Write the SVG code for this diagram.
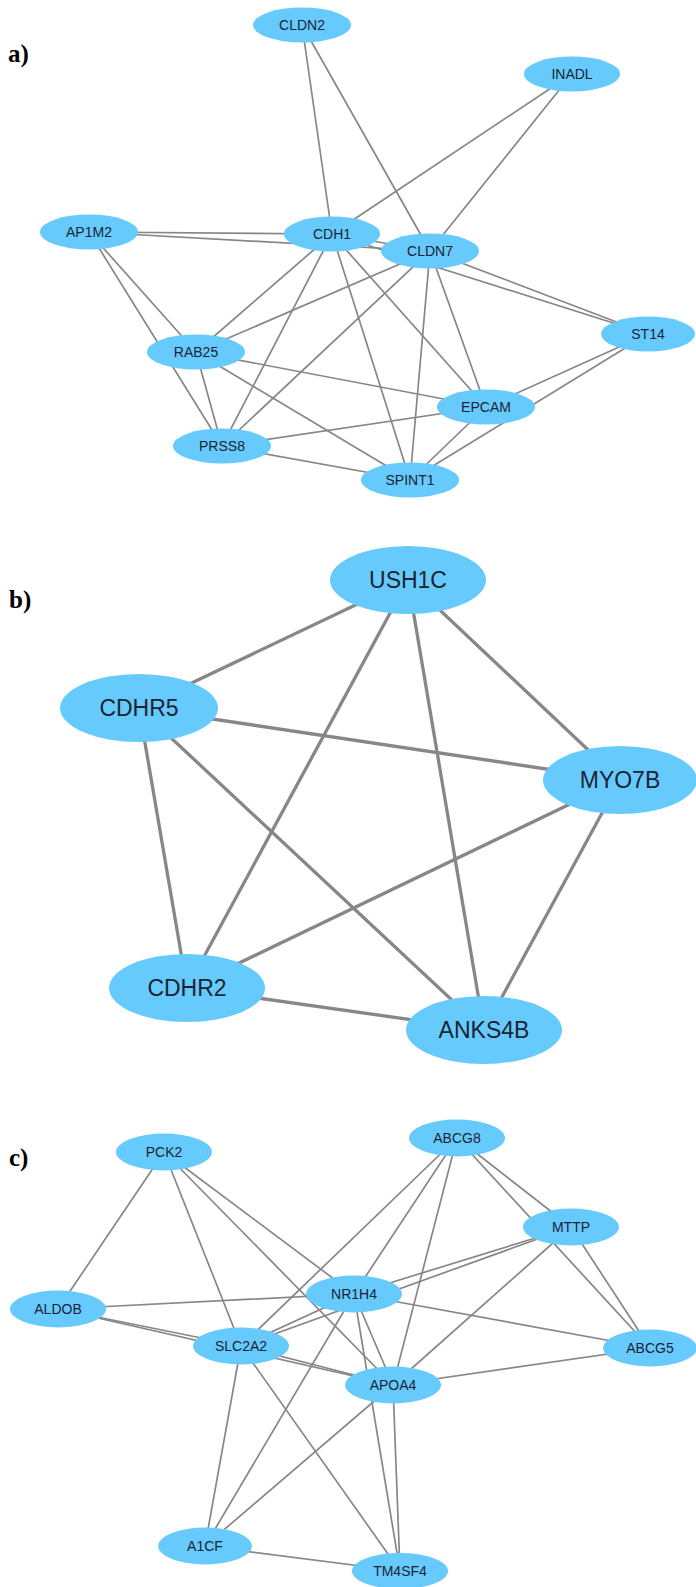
<svg xmlns="http://www.w3.org/2000/svg" width="696" height="1587" viewBox="0 0 696 1587">
<style>
.n{fill:#66cbfc;stroke:none}
.t{font-family:"Liberation Sans",Arial,sans-serif;fill:#1b2233;text-anchor:middle;dominant-baseline:central}
.ts{font-size:14px}
.tb{font-size:23px}
.e{stroke:#878787;fill:none;stroke-linecap:round}
.ea{stroke-width:1.7}
.eb{stroke-width:3.3}
.p{font-family:"Liberation Serif","Times New Roman",serif;font-weight:bold;font-size:25px;fill:#000}
</style>
<rect width="696" height="1587" fill="#fff"/>
<text class="p" x="8" y="62">a)</text>
<text class="p" x="9" y="608">b)</text>
<text class="p" x="9" y="1166">c)</text>
<g id="edges-a" class="e ea">
<line x1="302" y1="25" x2="332" y2="234"/>
<line x1="302" y1="25" x2="430" y2="251"/>
<line x1="572" y1="74" x2="332" y2="234"/>
<line x1="572" y1="74" x2="430" y2="251"/>
<line x1="89" y1="232" x2="332" y2="234"/>
<line x1="89" y1="232" x2="430" y2="251"/>
<line x1="89" y1="232" x2="196" y2="352"/>
<line x1="89" y1="232" x2="222" y2="446"/>
<line x1="332" y1="234" x2="430" y2="251"/>
<line x1="332" y1="234" x2="648" y2="334"/>
<line x1="332" y1="234" x2="196" y2="352"/>
<line x1="332" y1="234" x2="222" y2="446"/>
<line x1="332" y1="234" x2="410" y2="480"/>
<line x1="332" y1="234" x2="486" y2="407"/>
<line x1="430" y1="251" x2="648" y2="334"/>
<line x1="430" y1="251" x2="196" y2="352"/>
<line x1="430" y1="251" x2="222" y2="446"/>
<line x1="430" y1="251" x2="410" y2="480"/>
<line x1="430" y1="251" x2="486" y2="407"/>
<line x1="196" y1="352" x2="486" y2="407"/>
<line x1="196" y1="352" x2="222" y2="446"/>
<line x1="196" y1="352" x2="410" y2="480"/>
<line x1="486" y1="407" x2="222" y2="446"/>
<line x1="486" y1="407" x2="648" y2="334"/>
<line x1="648" y1="334" x2="410" y2="480"/>
<line x1="486" y1="407" x2="410" y2="480"/>
<line x1="222" y1="446" x2="410" y2="480"/>
</g>
<g id="edges-b" class="e eb">
<line x1="408" y1="580" x2="139" y2="708"/>
<line x1="408" y1="580" x2="187" y2="988"/>
<line x1="408" y1="580" x2="484" y2="1030"/>
<line x1="408" y1="580" x2="620" y2="780"/>
<line x1="139" y1="708" x2="620" y2="780"/>
<line x1="139" y1="708" x2="187" y2="988"/>
<line x1="139" y1="708" x2="484" y2="1030"/>
<line x1="620" y1="780" x2="187" y2="988"/>
<line x1="620" y1="780" x2="484" y2="1030"/>
<line x1="187" y1="988" x2="484" y2="1030"/>
</g>
<g id="edges-c" class="e ea">
<line x1="164" y1="1152" x2="58" y2="1309"/>
<line x1="164" y1="1152" x2="241" y2="1346"/>
<line x1="164" y1="1152" x2="354" y2="1294"/>
<line x1="164" y1="1152" x2="393" y2="1385"/>
<line x1="457" y1="1138" x2="241" y2="1346"/>
<line x1="457" y1="1138" x2="354" y2="1294"/>
<line x1="457" y1="1138" x2="393" y2="1385"/>
<line x1="457" y1="1138" x2="571" y2="1227"/>
<line x1="457" y1="1138" x2="650" y2="1348"/>
<line x1="571" y1="1227" x2="650" y2="1348"/>
<line x1="571" y1="1227" x2="354" y2="1294"/>
<line x1="571" y1="1227" x2="241" y2="1346"/>
<line x1="571" y1="1227" x2="393" y2="1385"/>
<line x1="354" y1="1294" x2="58" y2="1309"/>
<line x1="354" y1="1294" x2="650" y2="1348"/>
<line x1="354" y1="1294" x2="241" y2="1346"/>
<line x1="354" y1="1294" x2="393" y2="1385"/>
<line x1="354" y1="1294" x2="400" y2="1571"/>
<line x1="354" y1="1294" x2="205" y2="1546"/>
<line x1="58" y1="1309" x2="241" y2="1346"/>
<line x1="58" y1="1309" x2="393" y2="1385"/>
<line x1="241" y1="1346" x2="393" y2="1385"/>
<line x1="241" y1="1346" x2="205" y2="1546"/>
<line x1="241" y1="1346" x2="400" y2="1571"/>
<line x1="393" y1="1385" x2="205" y2="1546"/>
<line x1="393" y1="1385" x2="400" y2="1571"/>
<line x1="393" y1="1385" x2="650" y2="1348"/>
<line x1="205" y1="1546" x2="400" y2="1571"/>
</g>
<g id="CLDN2"><ellipse class="n" cx="302" cy="25" rx="49" ry="17.5"/><text class="t ts" x="302" y="25">CLDN2</text></g>
<g id="INADL"><ellipse class="n" cx="572" cy="74" rx="48" ry="17.5"/><text class="t ts" x="572" y="74">INADL</text></g>
<g id="AP1M2"><ellipse class="n" cx="89" cy="232" rx="49" ry="17.5"/><text class="t ts" x="89" y="232">AP1M2</text></g>
<g id="CDH1"><ellipse class="n" cx="332" cy="234" rx="48" ry="17.5"/><text class="t ts" x="332" y="234">CDH1</text></g>
<g id="CLDN7"><ellipse class="n" cx="430" cy="251" rx="49" ry="17.5"/><text class="t ts" x="430" y="251">CLDN7</text></g>
<g id="ST14"><ellipse class="n" cx="648" cy="334" rx="47" ry="17.5"/><text class="t ts" x="648" y="334">ST14</text></g>
<g id="RAB25"><ellipse class="n" cx="196" cy="352" rx="49" ry="17.5"/><text class="t ts" x="196" y="352">RAB25</text></g>
<g id="EPCAM"><ellipse class="n" cx="486" cy="407" rx="49" ry="17.5"/><text class="t ts" x="486" y="407">EPCAM</text></g>
<g id="PRSS8"><ellipse class="n" cx="222" cy="446" rx="49" ry="17.5"/><text class="t ts" x="222" y="446">PRSS8</text></g>
<g id="SPINT1"><ellipse class="n" cx="410" cy="480" rx="49" ry="17.5"/><text class="t ts" x="410" y="480">SPINT1</text></g>
<g id="USH1C"><ellipse class="n" cx="408" cy="580" rx="78" ry="34"/><text class="t tb" x="408" y="580">USH1C</text></g>
<g id="CDHR5"><ellipse class="n" cx="139" cy="708" rx="79" ry="34"/><text class="t tb" x="139" y="708">CDHR5</text></g>
<g id="MYO7B"><ellipse class="n" cx="620" cy="780" rx="77" ry="34"/><text class="t tb" x="620" y="780">MYO7B</text></g>
<g id="CDHR2"><ellipse class="n" cx="187" cy="988" rx="78" ry="34"/><text class="t tb" x="187" y="988">CDHR2</text></g>
<g id="ANKS4B"><ellipse class="n" cx="484" cy="1030" rx="78" ry="34"/><text class="t tb" x="484" y="1030">ANKS4B</text></g>
<g id="PCK2"><ellipse class="n" cx="164" cy="1152" rx="48" ry="18.5"/><text class="t ts" x="164" y="1152">PCK2</text></g>
<g id="ABCG8"><ellipse class="n" cx="457" cy="1138" rx="48" ry="18.5"/><text class="t ts" x="457" y="1138">ABCG8</text></g>
<g id="MTTP"><ellipse class="n" cx="571" cy="1227" rx="48" ry="18.5"/><text class="t ts" x="571" y="1227">MTTP</text></g>
<g id="NR1H4"><ellipse class="n" cx="354" cy="1294" rx="48" ry="18.5"/><text class="t ts" x="354" y="1294">NR1H4</text></g>
<g id="ALDOB"><ellipse class="n" cx="58" cy="1309" rx="48" ry="18.5"/><text class="t ts" x="58" y="1309">ALDOB</text></g>
<g id="SLC2A2"><ellipse class="n" cx="241" cy="1346" rx="48" ry="18.5"/><text class="t ts" x="241" y="1346">SLC2A2</text></g>
<g id="ABCG5"><ellipse class="n" cx="650" cy="1348" rx="47" ry="18.5"/><text class="t ts" x="650" y="1348">ABCG5</text></g>
<g id="APOA4"><ellipse class="n" cx="393" cy="1385" rx="48" ry="18.5"/><text class="t ts" x="393" y="1385">APOA4</text></g>
<g id="A1CF"><ellipse class="n" cx="205" cy="1546" rx="47" ry="18.5"/><text class="t ts" x="205" y="1546">A1CF</text></g>
<g id="TM4SF4"><ellipse class="n" cx="400" cy="1571" rx="48" ry="18"/><text class="t ts" x="400" y="1571">TM4SF4</text></g>
</svg>
